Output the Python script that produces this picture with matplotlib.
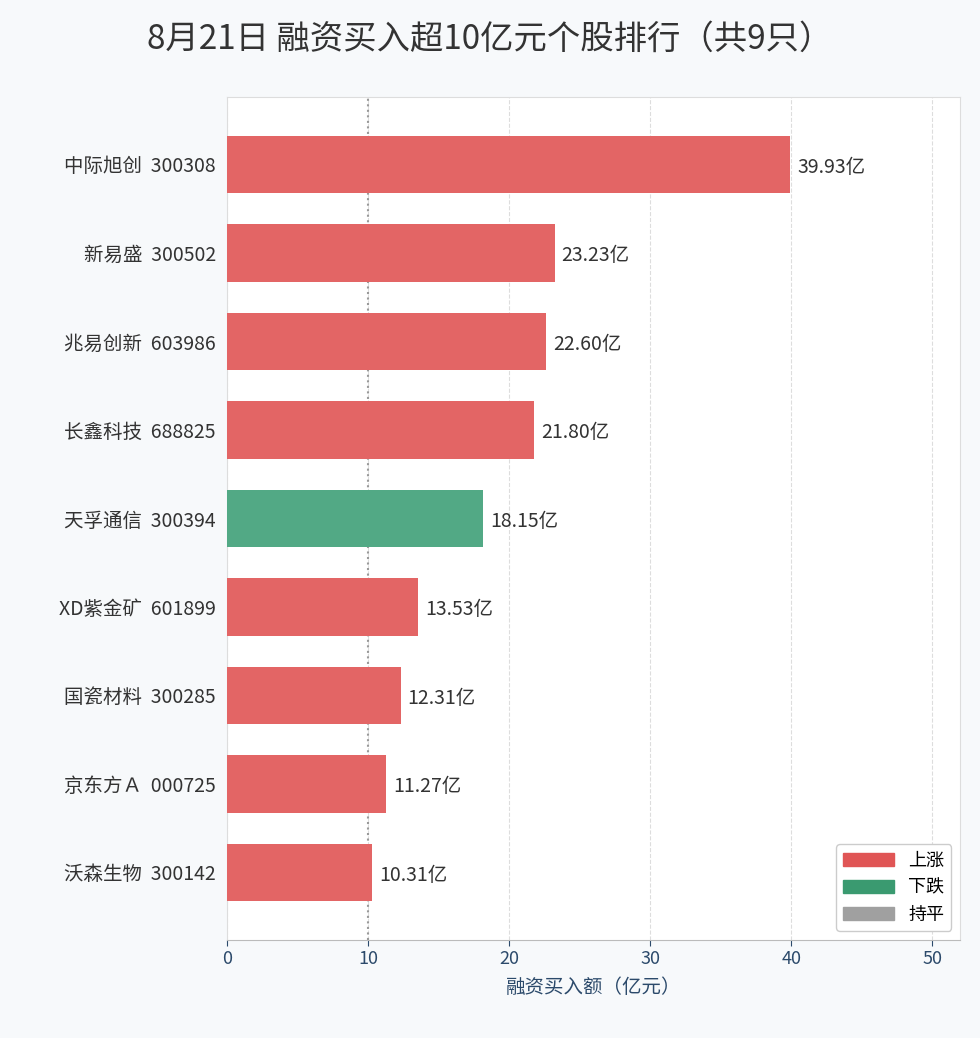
import matplotlib
matplotlib.use("Agg")
import matplotlib.pyplot as plt
from matplotlib.patches import Patch

plt.rcParams['font.family'] = ['Noto Sans CJK SC', 'DejaVu Sans']

names = ["中际旭创  300308", "新易盛  300502", "兆易创新  603986", "长鑫科技  688825",
         "天孚通信  300394", "XD紫金矿  601899", "国瓷材料  300285", "京东方Ａ  000725", "沃森生物  300142"]
values = [39.93, 23.23, 22.60, 21.80, 18.15, 13.53, 12.31, 11.27, 10.31]
trend = ["up", "up", "up", "up", "down", "up", "up", "up", "up"]

bar_colors = {"up": "#e36565", "down": "#52a985", "flat": "#a0a0a0"}

fig = plt.figure(figsize=(9.8, 10.38), dpi=100, facecolor="#f7f9fb")
ax = fig.add_axes([0.2316, 0.0944, 0.7484, 0.8122])
ax.set_facecolor("white")

y = list(range(len(names)))
ax.barh(y, values, height=0.65, color=[bar_colors[t] for t in trend], zorder=3)
for yi, v in zip(y, values):
    ax.text(v + 0.5, yi + 0.03, f"{v:.2f}亿", va="center", ha="left", fontsize=14, color="#333333", zorder=4)

ax.set_xlim(0, 52)
ax.set_ylim(8.763, -0.763)
ax.set_yticks(y)
ax.set_yticklabels(names, fontsize=14, color="#333333")
ax.set_xticks([0, 10, 20, 30, 40, 50])
ax.tick_params(axis='x', labelsize=13, colors="#2c4a6b", length=4)
ax.tick_params(axis='y', length=0, pad=8)
ax.grid(axis='x', linestyle='--', color="#dddddd", linewidth=0.8, zorder=0)
ax.axvline(10, color="#999999", linestyle=":", linewidth=1.5, zorder=2)
for s in ax.spines.values():
    s.set_color("#dddddd")
ax.spines['bottom'].set_color("#bbbbbb")
ax.set_xlabel("融资买入额（亿元）", fontsize=14, color="#2c4a6b", labelpad=6)

handles = [Patch(color="#e05555", label="上涨"), Patch(color="#3a9a70", label="下跌"), Patch(color="#a0a0a0", label="持平")]
ax.legend(handles=handles, loc="lower right", fontsize=13, frameon=True, framealpha=1, edgecolor="#cccccc", handlelength=2.8)

fig.text(0.5, 0.962, "8月21日 融资买入超10亿元个股排行（共9只）", ha="center", va="center", fontsize=24, color="#333333")

fig.savefig("out.png", dpi=100, facecolor=fig.get_facecolor())
